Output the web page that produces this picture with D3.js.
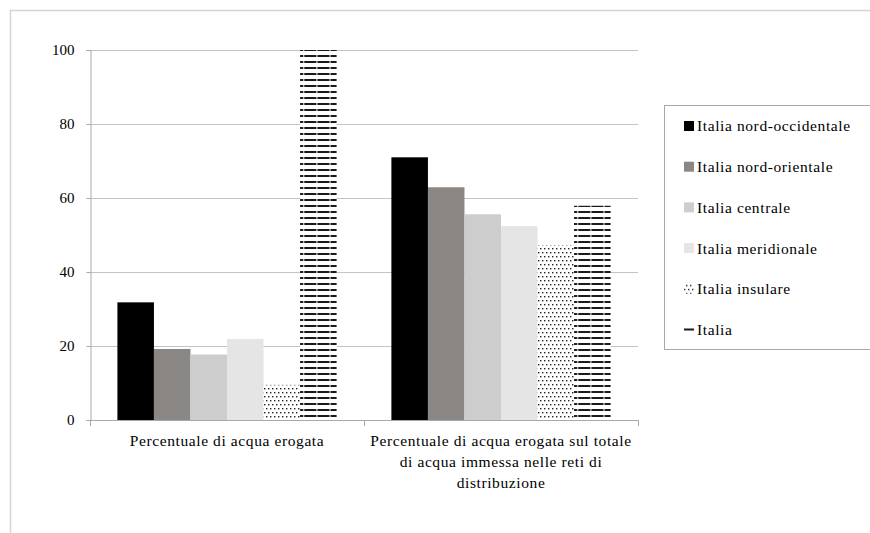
<!DOCTYPE html>
<html>
<head>
<meta charset="utf-8">
<script src="https://cdn.jsdelivr.net/npm/d3@7"></script>
<style>
  html, body { margin: 0; padding: 0; background: #fff; }
  svg { display: block; }
</style>
</head>
<body>
<svg id="chart" width="870" height="533"></svg>
<script>
// Categories (x groups), with line breaks for the wrapped labels
const categories = [
  "Percentuale di acqua erogata",
  "Percentuale di acqua erogata sul totale di acqua immessa nelle reti di distribuzione"
];
const categoryLines = [
  ["Percentuale di acqua erogata"],
  ["Percentuale di acqua erogata sul totale", "di acqua immessa nelle reti di", "distribuzione"]
];

// Series (one bar per area, per category)
const seriesNames = [
  "Italia nord-occidentale",
  "Italia nord-orientale",
  "Italia centrale",
  "Italia meridionale",
  "Italia insulare",
  "Italia"
];
const nordOccidentale = [31.8, 71.0];
const nordOrientale   = [19.2, 62.9];
const centrale        = [17.7, 55.6];
const meridionale     = [21.9, 52.4];
const insulare        = [9.5, 47.3];
const italia          = [100, 57.9];

const yTicks = [0, 20, 40, 60, 80, 100];

const seriesValues = [nordOccidentale, nordOrientale, centrale, meridionale, insulare, italia];
const fills = ["#000000", "#8b8785", "#cdcdcd", "#e5e5e5", "url(#dots)", "url(#hdash)"];
const FONT = "'Liberation Serif', 'Times New Roman', Times, serif";

const svg = d3.select("#chart").style("font-family", FONT);

// Fill patterns: sparse dots and dashed horizontal lines
const defs = svg.append("defs");
const dots = defs.append("pattern").attr("id", "dots")
  .attr("patternUnits", "userSpaceOnUse").attr("width", 4).attr("height", 8);
dots.append("rect").attr("width", 4).attr("height", 8).attr("fill", "#fff");
dots.append("rect").attr("x", 0).attr("y", 0).attr("width", 1.4).attr("height", 1.4).attr("fill", "#222");
dots.append("rect").attr("x", 2).attr("y", 4).attr("width", 1.4).attr("height", 1.4).attr("fill", "#222");

const hdash = defs.append("pattern").attr("id", "hdash")
  .attr("patternUnits", "userSpaceOnUse").attr("width", 13.13).attr("height", 6)
  .attr("x", 4.2).attr("y", 1);
hdash.append("rect").attr("width", 13.13).attr("height", 6).attr("fill", "#fff");
hdash.append("rect").attr("x", 0).attr("y", 0).attr("width", 12.13).attr("height", 2).attr("fill", "#1a1a1a");

// Chart frame
svg.append("path")
  .attr("d", "M10.5,533 V10.5 H870")
  .attr("fill", "none").attr("stroke", "#d4d4d4").attr("stroke-width", 1.5);

const plotLeft = 90, plotRight = 638, plotTop = 50, plotBottom = 420;

const y = d3.scaleLinear().domain([0, 100]).range([plotBottom, plotTop]);
const x0 = d3.scaleBand().domain(categories).range([plotLeft, plotRight]).padding(0);
const x1 = d3.scaleBand().domain(seriesNames).range([0, x0.bandwidth()])
  .paddingInner(0).paddingOuter(0.75);

// Gridlines
svg.append("g").selectAll("line").data(yTicks.filter(d => d > 0)).join("line")
  .attr("x1", plotLeft).attr("x2", plotRight)
  .attr("y1", d => Math.round(y(d)) + 0.5).attr("y2", d => Math.round(y(d)) + 0.5)
  .attr("stroke", "#c4c4c4").attr("stroke-width", 1);

// Bars
const groups = svg.append("g").selectAll("g").data(categories).join("g")
  .attr("transform", d => `translate(${x0(d)},0)`);
groups.selectAll("rect")
  .data((c, ci) => seriesNames.map((s, si) => ({ s, si, v: seriesValues[si][ci] })))
  .join("rect")
  .attr("x", d => x1(d.s))
  .attr("width", x1.bandwidth())
  .attr("y", d => y(d.v))
  .attr("height", d => y(0) - y(d.v))
  .attr("fill", d => fills[d.si]);

// Y axis
const yAxis = svg.append("g")
  .attr("transform", `translate(${plotLeft + 0.5},0)`)
  .call(d3.axisLeft(y).tickValues(yTicks).tickSize(4).tickPadding(12));
yAxis.attr("font-family", null).style("font-family", FONT);
yAxis.select(".domain").attr("stroke", "#a8a8a8");
yAxis.selectAll(".tick line").attr("stroke", "#a8a8a8");
yAxis.selectAll(".tick text").attr("font-size", 15).attr("fill", "#000");

// X axis line and category boundary ticks
svg.append("line")
  .attr("x1", plotLeft).attr("x2", plotRight)
  .attr("y1", plotBottom + 0.5).attr("y2", plotBottom + 0.5)
  .attr("stroke", "#a8a8a8");
const bounds = categories.map(c => x0(c)).concat([x0(categories[categories.length - 1]) + x0.bandwidth()]);
svg.append("g").selectAll("line").data(bounds).join("line")
  .attr("x1", d => Math.round(d) + 0.5).attr("x2", d => Math.round(d) + 0.5)
  .attr("y1", plotBottom).attr("y2", plotBottom + 6)
  .attr("stroke", "#a8a8a8");

// Category labels
const catLabels = svg.append("g").selectAll("text").data(categories).join("text")
  .attr("text-anchor", "middle")
  .attr("font-size", 15.5)
  .attr("letter-spacing", 0.6)
  .attr("fill", "#000")
  .attr("transform", d => `translate(${x0(d) + x0.bandwidth() / 2},${plotBottom + 26})`);
catLabels.selectAll("tspan")
  .data((d, i) => categoryLines[i])
  .join("tspan")
  .attr("x", 0)
  .attr("dy", (d, i) => i === 0 ? 0 : 21)
  .text(d => d);

// Legend
const legendTop = 105.5;
svg.append("rect")
  .attr("x", 664.5).attr("y", legendTop)
  .attr("width", 220).attr("height", 349.5 - legendTop)
  .attr("fill", "#fff").attr("stroke", "#a8a8a8").attr("stroke-width", 1);
const leg = svg.append("g").selectAll("g").data(seriesNames).join("g")
  .attr("transform", (d, i) => `translate(684,${126 + i * 40.7})`);
leg.append("rect")
  .attr("x", 0)
  .attr("y", (d, i) => fills[i] === "url(#hdash)" ? -1 : -5)
  .attr("width", 10)
  .attr("height", (d, i) => fills[i] === "url(#hdash)" ? 2 : 10)
  .attr("fill", (d, i) => fills[i] === "url(#hdash)" ? "#1a1a1a" : fills[i]);
leg.append("text")
  .attr("x", 13).attr("y", 0).attr("dy", "0.35em")
  .attr("font-size", 15.5).attr("letter-spacing", 0.6).attr("fill", "#000")
  .text(d => d);
</script>
</body>
</html>
